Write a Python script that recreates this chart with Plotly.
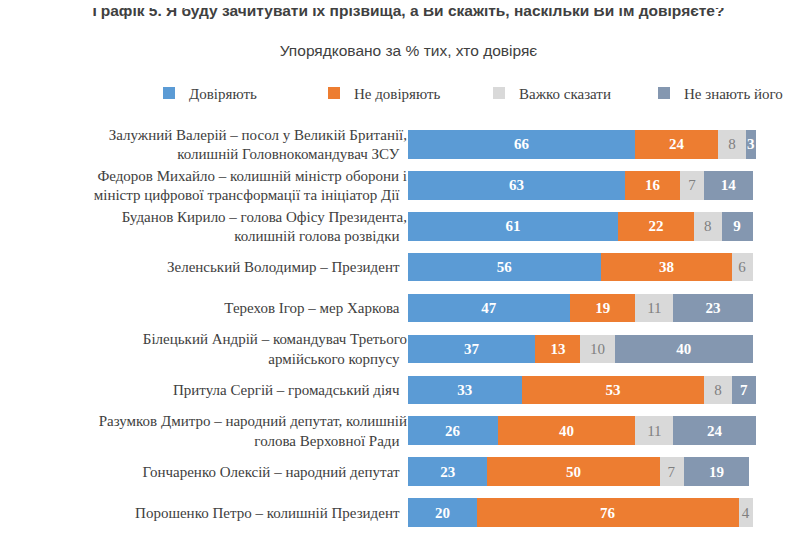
import plotly.graph_objects as go

people = [
    "Залужний Валерій – посол у Великій Британії,<br>колишній Головнокомандувач ЗСУ",
    "Федоров Михайло – колишній міністр оборони і<br>міністр цифрової трансформації та ініціатор Дії",
    "Буданов Кирило – голова Офісу Президента,<br>колишній голова розвідки",
    "Зеленський Володимир – Президент",
    "Терехов Ігор – мер Харкова",
    "Білецький Андрій – командувач Третього<br>армійського корпусу",
    "Притула Сергій – громадський діяч",
    "Разумков Дмитро – народний депутат, колишній<br>голова Верховної Ради",
    "Гончаренко Олексій – народний депутат",
    "Порошенко Петро – колишній Президент",
]
trust = [66, 63, 61, 56, 47, 37, 33, 26, 23, 20]
distrust = [24, 16, 22, 38, 19, 13, 53, 40, 50, 76]
hard = [8, 7, 8, 6, 11, 10, 8, 11, 7, 4]
unknown = [3, 14, 9, 0, 23, 40, 7, 24, 19, 0]

series = [
    ("Довіряють", trust, "#5B9BD5", "white", True),
    ("Не довіряють", distrust, "#ED7D31", "white", True),
    ("Важко сказати", hard, "#D9D9D9", "#7F7F7F", False),
    ("Не знають його", unknown, "#8497B0", "white", True),
]

fig = go.Figure()
for name, vals, color, tc, bold in series:
    fig.add_trace(go.Bar(
        y=people, x=vals, name=name, orientation="h",
        marker=dict(color=color, line=dict(width=0)),
        text=[("<b>%d</b>" % v if bold else str(v)) if v else "" for v in vals],
        textposition="inside", insidetextanchor="middle",
        textfont=dict(family="Liberation Serif", size=15, color=tc),
        constraintext="none",
    ))

fig.update_layout(
    barmode="stack", bargap=0.3,
    width=801, height=541,
    paper_bgcolor="white", plot_bgcolor="white",
    margin=dict(l=400, r=53, t=116, b=16),
    font=dict(family="Liberation Serif", size=14, color="#404040"),
    title=dict(
        text="<b>Графік 5. Я буду зачитувати їх прізвища, а Ви скажіть, наскільки Ви їм довіряєте?</b>"
             "<br><span style='font-size:16px'> </span><br><span style='font-size:15.5px'>Упорядковано за % тих, хто довіряє</span>",
        x=0.5, xanchor="center", y=0.985, yanchor="top",
        font=dict(family="Liberation Sans", size=15.5, color="#404040"),
    ),
    legend=dict(orientation="h", x=-0.71, xanchor="left", y=1.035, yanchor="bottom",
                font=dict(family="Liberation Serif", size=15, color="#404040"),
                traceorder="normal", itemwidth=30, entrywidth=120),
    xaxis=dict(range=[0, 101], visible=False),
    yaxis=dict(autorange="reversed", showgrid=False, ticks="", ticksuffix="  ",
               tickfont=dict(family="Liberation Serif", size=15, color="#404040")),
    uniformtext=dict(minsize=8, mode="show"),
)
fig.write_html("out.html")
